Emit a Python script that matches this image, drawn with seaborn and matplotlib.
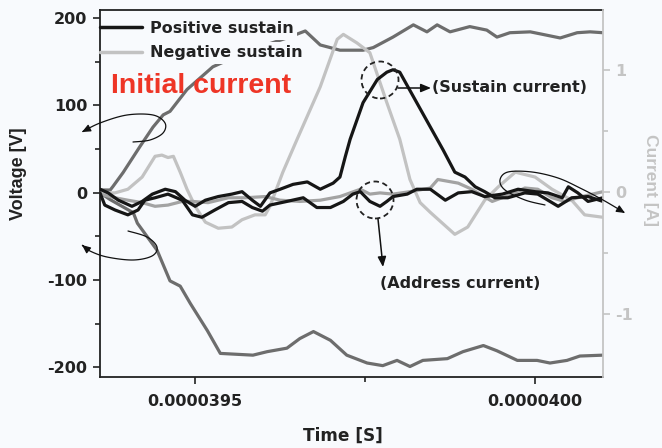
import numpy as np
import pandas as pd
import matplotlib
matplotlib.use("Agg")
import matplotlib.pyplot as plt
import seaborn as sns
from matplotlib.patches import FancyArrowPatch, Ellipse
from matplotlib.path import Path
from matplotlib.ticker import FixedLocator, FixedFormatter

# ---------------- data (time in ns, voltage in V, current in A) ----------------
vpos_t = [39360, 39375, 39379, 39394, 39419, 39438, 39453, 39463, 39488, 39526, 39581, 39635, 39662,
          39684, 39713, 39747, 39762, 39791, 39821, 39841, 39856, 39875, 39904, 39929, 39944, 39963,
          39993, 40012, 40037, 40062, 40081, 40100]
vpos_v = [3, 3, 7, 23, 53, 75, 89, 93, 118, 144, 163, 177, 185,
          169, 163, 163, 166, 178, 192, 184, 192, 184, 190, 186, 178, 183,
          184, 181, 177, 183, 184, 183]

vneg_t = [39360, 39375, 39409, 39415, 39444, 39463, 39478, 39493, 39518, 39537, 39585, 39606, 39635,
          39654, 39674, 39699, 39723, 39753, 39776, 39797, 39816, 39835, 39871, 39894, 39924, 39944,
          39974, 40003, 40022, 40047, 40066, 40100]
vneg_v = [0, -8, -23, -35, -66, -101, -107, -127, -158, -184, -186, -182, -178,
          -167, -159, -169, -186, -195, -198, -192, -199, -192, -190, -182, -175, -181,
          -192, -192, -195, -192, -187, -186]

pos_t = [39360, 39372, 39387, 39407, 39422, 39437, 39456, 39471, 39485, 39500, 39515, 39534, 39554,
         39569, 39584, 39596, 39610, 39625, 39644, 39665, 39684, 39703, 39713, 39721, 39728, 39747,
         39768, 39782, 39791, 39801, 39821, 39846, 39865, 39882, 39897, 39912, 39926, 39941, 39960,
         39985, 40004, 40034, 40054, 40078, 40100]
pos_i = [0.02, -0.01, -0.07, -0.12, -0.08, -0.02, 0.02, 0, -0.07, -0.12, -0.07, -0.04, -0.02,
         0, -0.07, -0.12, -0.01, 0.02, 0.06, 0.08, 0.02, 0.07, 0.12, 0.29, 0.43, 0.73,
         0.92, 0.98, 1.0, 0.98, 0.78, 0.53, 0.34, 0.16, 0.12, 0.04, 0, -0.05, -0.05,
         -0.01, -0.02, -0.12, -0.05, -0.04, -0.08]

addr_t = [39360, 39367, 39382, 39401, 39416, 39426, 39441, 39460, 39481, 39496, 39510, 39529, 39549,
          39569, 39584, 39599, 39610, 39635, 39659, 39679, 39699, 39718, 39732, 39743, 39757, 39772,
          39782, 39791, 39812, 39826, 39846, 39868, 39887, 39907, 39926, 39952, 39975, 40000, 40019,
          40040, 40049, 40063, 40078, 40100]
addr_i = [-0.01, -0.11, -0.15, -0.19, -0.15, -0.07, -0.05, -0.02, -0.07, -0.19, -0.21, -0.15, -0.09,
          -0.08, -0.13, -0.16, -0.11, -0.08, -0.05, -0.13, -0.13, -0.08, -0.02, 0, -0.08, -0.12,
          -0.08, -0.04, -0.02, 0.02, 0.02, -0.07, -0.01, 0, -0.04, -0.02, 0.02, 0, -0.01,
          -0.05, 0.04, -0.01, -0.08, -0.05]

neg_t = [39360, 39382, 39401, 39422, 39441, 39451, 39460, 39468, 39478, 39488, 39500, 39515, 39534,
         39554, 39569, 39588, 39603, 39610, 39629, 39650, 39684, 39709, 39718, 39738, 39757, 39782,
         39801, 39816, 39831, 39846, 39882, 39901, 39926, 39946, 39971, 40000, 40025, 40054, 40073,
         40100]
neg_i = [-0.01, -0.01, 0.02, 0.12, 0.29, 0.30, 0.28, 0.29, 0.16, 0.02, -0.12, -0.25, -0.30,
         -0.29, -0.23, -0.19, -0.19, -0.12, 0.16, 0.43, 0.86, 1.25, 1.29, 1.22, 1.14, 0.73,
         0.43, 0.10, -0.09, -0.17, -0.35, -0.29, -0.07, 0.04, 0.16, 0.12, 0.02, -0.07, -0.19,
         -0.21]

neg2_t = [39360, 39382, 39401, 39422, 39441, 39460, 39481, 39496, 39519, 39549, 39574, 39603, 39625,
          39654, 39684, 39713, 39743, 39757, 39772, 39791, 39816, 39846, 39857, 39887, 39907, 39937,
          39966, 39985, 40004, 40025, 40044, 40069, 40100]
neg2_i = [-0.02, -0.05, -0.07, -0.09, -0.12, -0.11, -0.08, -0.08, -0.09, -0.05, -0.05, -0.04, -0.07,
          -0.08, -0.07, -0.04, 0.02, -0.02, -0.01, -0.02, 0, 0.03, 0.10, 0.07, 0.02, -0.08,
          -0.02, 0.03, 0.02, -0.05, -0.08, -0.04, 0]

xtick_values = [3.95e-5, 4.0e-5]
xtick_labels = ["0.0000395", "0.0000400"]
xminor_values = [3.975e-5]
ytick_left = [-200, -100, 0, 100, 200]
ytick_left_minor = [-150, -50, 50, 150]
ytick_right = [-1, 0, 1]
ytick_right_minor = [-0.5, 0.5]
legend_labels = ["Positive sustain", "Negative sustain"]

# ---------------- styling ----------------
sns.set_style("ticks")
BG = "#f8fafd"
plt.rcParams["font.family"] = ["DejaVu Sans"]
plt.rcParams["font.weight"] = "bold"
plt.rcParams["axes.unicode_minus"] = False
plt.rcParams["lines.solid_joinstyle"] = "round"
NARROW = ["Liberation Sans", "DejaVu Sans"]
FS = 11.5

W, H = 662, 448
fig = plt.figure(figsize=(W / 100, H / 100), dpi=100, facecolor=BG)
ax = fig.add_axes([100 / W, 1 - 377 / H, 503 / W, 367 / H])
ax.set_facecolor(BG)
ax2 = ax.twinx()

def df(t, v, name):
    return pd.DataFrame({"t": np.array(t) * 1e-9, name: v})

VCOL = "#6d6d6d"
BLK = "#161616"
LG = "#c2c2c2"
MG = "#a3a3a3"
LW = 2.3

sns.lineplot(data=df(vpos_t, vpos_v, "v"), x="t", y="v", ax=ax, color=VCOL, lw=LW, sort=False)
sns.lineplot(data=df(vneg_t, vneg_v, "v"), x="t", y="v", ax=ax, color=VCOL, lw=LW, sort=False)

sns.lineplot(data=df(neg_t, neg_i, "i"), x="t", y="i", ax=ax2, color=LG, lw=LW, sort=False,
             label=legend_labels[1])
sns.lineplot(data=df(neg2_t, neg2_i, "i"), x="t", y="i", ax=ax2, color=MG, lw=LW, sort=False)
sns.lineplot(data=df(addr_t, addr_i, "i"), x="t", y="i", ax=ax2, color=BLK, lw=LW, sort=False)
sns.lineplot(data=df(pos_t, pos_i, "i"), x="t", y="i", ax=ax2, color=BLK, lw=LW, sort=False,
             label=legend_labels[0])

ax.set_xlim(39360e-9, 40100e-9)
ax.set_ylim(-211, 209)
ax2.set_ylim(-1.52, 1.49)

# ticks
ax.xaxis.set_major_locator(FixedLocator(xtick_values))
ax.xaxis.set_major_formatter(FixedFormatter(xtick_labels))
ax.xaxis.set_minor_locator(FixedLocator(xminor_values))
ax.set_yticks(ytick_left)
ax.set_yticks(ytick_left_minor, minor=True)
ax.set_yticklabels([str(v) for v in ytick_left])
ax2.set_yticks(ytick_right)
ax2.set_yticks(ytick_right_minor, minor=True)
ax2.set_yticklabels([str(v) for v in ytick_right])

ax.tick_params(axis="both", which="major", length=5, width=1.2, direction="out",
               labelsize=FS, pad=4, color="#222222", labelcolor="#222222")
ax.tick_params(axis="x", which="major", pad=7)
ax.tick_params(axis="both", which="minor", length=3.5, width=1.2, direction="out", color="#222222")
ax2.tick_params(axis="y", which="major", length=5, width=1.2, direction="out", labelsize=FS,
                pad=4, color="#c4c4c4", labelcolor="#c4c4c4")
ax2.tick_params(axis="y", which="minor", length=3.5, width=1.2, direction="out", color="#c4c4c4")

for sp in ["left", "bottom", "top"]:
    ax.spines[sp].set_linewidth(1.3)
    ax.spines[sp].set_color("#222222")
for sp in ["left", "bottom", "top"]:
    ax2.spines[sp].set_visible(False)
ax.spines["right"].set_visible(False)
ax2.spines["right"].set_color("#c4c4c4")
ax2.spines["right"].set_linewidth(1.3)

ax.set_xlabel("Time [S]", fontsize=12.2, fontweight="bold", color="#222222", va="center")
ax.xaxis.set_label_coords((343 - 100) / 503, (377 - 436) / 367)
ax.set_ylabel("Voltage [V]", fontsize=13, fontweight="bold", color="#222222",
              family=NARROW, va="center")
ax.yaxis.set_label_coords((18 - 100) / 503, (377 - 174) / 367)
ax2.set_ylabel("Current [A]", fontsize=12.5, fontweight="bold", color="#c4c4c4", rotation=270,
               va="center", ha="center", family=NARROW)
ax2.yaxis.set_label_coords((651 - 100) / 503, (377 - 180) / 367)

# legend
h, l = ax2.get_legend_handles_labels()
order = [l.index(legend_labels[0]), l.index(legend_labels[1])]
leg = ax2.legend([h[i] for i in order], [l[i] for i in order], loc="upper left",
                 bbox_to_anchor=(0.0, 1 - 11 / 367), frameon=False, fontsize=FS, handlelength=2.6,
                 handletextpad=0.5, labelspacing=0.58, borderaxespad=0.0, borderpad=0.0)
for txt in leg.get_texts():
    txt.set_fontweight("bold")
    txt.set_color("#222222")
    txt.set_bbox(dict(facecolor=BG, edgecolor="none", pad=2.5))
for ln in leg.get_lines():
    ln.set_linewidth(2.5)

# ---------------- annotations (figure-pixel helpers) ----------------
def P(x, y):
    return (x / W, 1 - y / H)

def smooth(pts, n=12):
    pts = np.array(pts, float)
    pts = np.vstack([pts[0], pts, pts[-1]])
    out = []
    for i in range(1, len(pts) - 2):
        p0, p1, p2, p3 = pts[i - 1], pts[i], pts[i + 1], pts[i + 2]
        for s in np.linspace(0, 1, n, endpoint=False):
            out.append(0.5 * ((2 * p1) + (-p0 + p2) * s + (2 * p0 - 5 * p1 + 4 * p2 - p3) * s ** 2
                              + (-p0 + 3 * p1 - 3 * p2 + p3) * s ** 3))
    out.append(pts[-2])
    return [P(x, y) for x, y in out]

def curve_arrow(pts):
    verts = smooth(pts)
    arr = FancyArrowPatch(path=Path(verts), arrowstyle="-|>,head_length=5,head_width=2.2",
                          lw=0.9, color="#111111", transform=fig.transFigure, mutation_scale=1)
    fig.add_artist(arr)

curve_arrow([(133, 142), (150, 140), (163, 133), (165, 123), (153, 115), (127, 115), (100, 123), (82, 132)])
curve_arrow([(128, 231), (147, 237), (157, 247), (152, 256), (133, 260), (107, 257), (90, 251), (82, 245)])
curve_arrow([(545, 205), (525, 200), (505, 190), (500, 180), (508, 172), (532, 172), (558, 178),
             (580, 188), (603, 200), (625, 213)])

for cx, cy in [(380, 80), (375, 200)]:
    e = Ellipse(P(cx, cy), 37 / W, 37 / H, transform=fig.transFigure, fill=False,
                ec="#222222", lw=1.3, ls=(0, (3, 2)))
    fig.add_artist(e)

fig.add_artist(FancyArrowPatch(P(398, 88), P(431, 88), transform=fig.transFigure,
                               arrowstyle="-|>,head_length=6,head_width=2.5", lw=1.1,
                               color="#111111", mutation_scale=1, shrinkA=0, shrinkB=0))
fig.add_artist(FancyArrowPatch(P(378, 219), P(383, 267), transform=fig.transFigure,
                               arrowstyle="-|>,head_length=6,head_width=2.5", lw=1.1,
                               color="#111111", mutation_scale=1, shrinkA=0, shrinkB=0))

fig.text(*P(432, 88), "(Sustain current)", fontsize=FS, fontweight="bold", color="#222222",
         ha="left", va="center")
fig.text(*P(380, 284), "(Address current)", fontsize=FS, fontweight="bold", color="#222222",
         ha="left", va="center")
fig.text(*P(201, 86), "Initial current", fontsize=20.5, fontweight="bold", color="#ee3526",
         ha="center", va="center", family=NARROW)

fig.savefig("out.png", dpi=100, facecolor=BG)
